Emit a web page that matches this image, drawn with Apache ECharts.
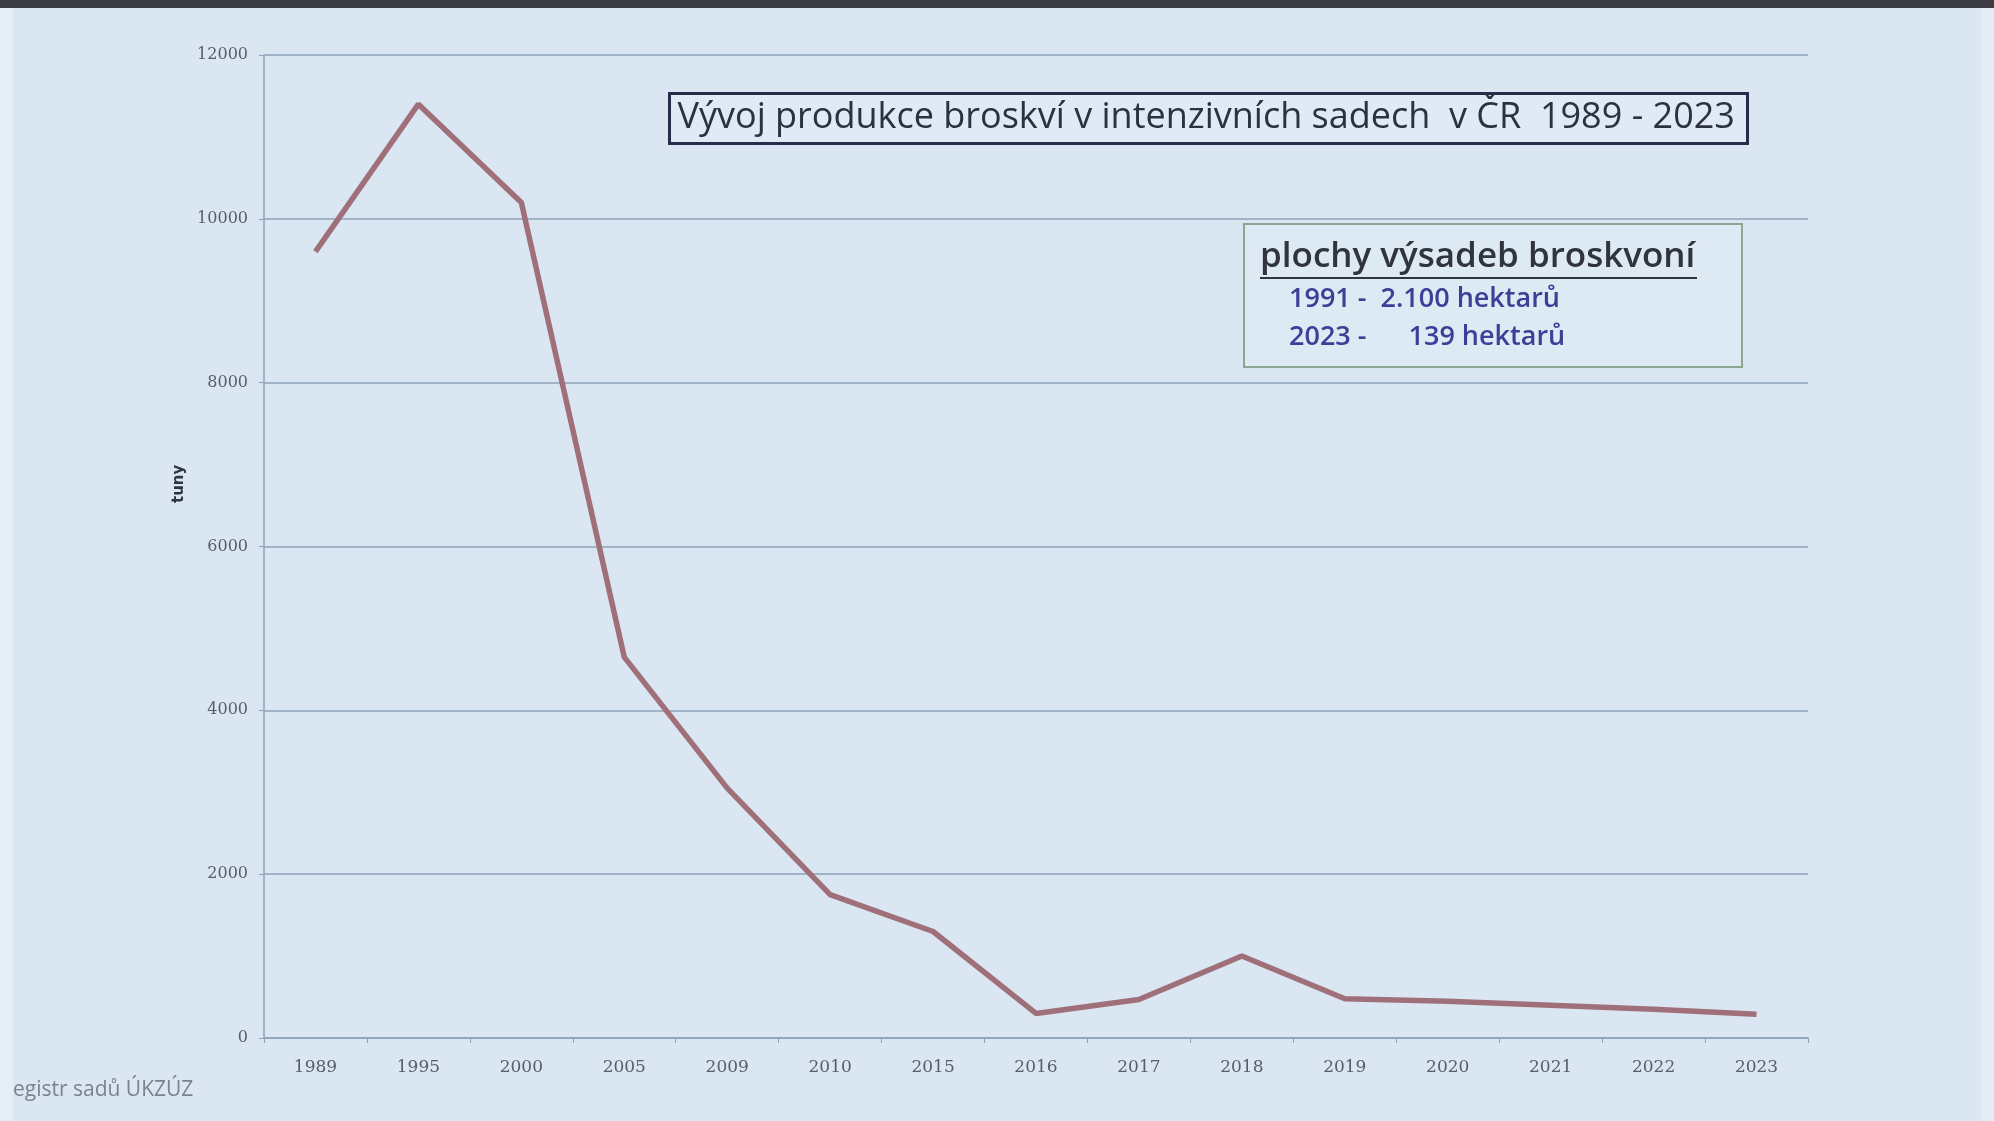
<!DOCTYPE html>
<html>
<head>
<meta charset="utf-8">
<script src="https://cdn.jsdelivr.net/npm/echarts@6/dist/echarts.min.js"></script>
<style>
  html, body { margin: 0; padding: 0; background: #dae7f2; }
  #chart { width: 1994px; height: 1121px; }
</style>
</head>
<body>
<div id="chart"></div>
<script>
// roky a produkce (tuny)
const years = ['1989', '1995', '2000', '2005', '2009', '2010', '2015', '2016', '2017', '2018', '2019', '2020', '2021', '2022', '2023']
const production = [9600, 11400, 10200, 4650, 3050, 1750, 1300, 300, 470, 1000, 480, 450, 400, 350, 290]
const yTicks = [0, 2000, 4000, 6000, 8000, 10000, 12000]

const titleText = 'Vývoj produkce broskví v intenzivních sadech  v ČR  1989 - 2023'
const noteTitle = 'plochy výsadeb broskvoní'
const noteLines = ['1991 -  2.100 hektarů', '2023 -      139 hektarů']
const sourceText = 'Registr sadů ÚKZÚZ'
const yName = 'tuny'

const chart = echarts.init(document.getElementById('chart'))

const option = {
  backgroundColor: '#dae7f2',
  animation: false,
  grid: { left: 264, right: 186, top: 55, bottom: 83 },
  xAxis: {
    type: 'category',
    data: years,
    boundaryGap: true,
    axisLine: { lineStyle: { color: '#8ea3b8', width: 1.5 } },
    axisTick: { show: true, length: 5, lineStyle: { color: '#8ea3b8' } },
    axisLabel: { color: '#555d6e', fontSize: 17, fontFamily: 'DejaVu Serif', margin: 21 }
  },
  yAxis: {
    type: 'value',
    min: yTicks[0],
    max: yTicks[yTicks.length - 1],
    interval: 2000,
    axisLine: { show: true, lineStyle: { color: '#8ea3b8', width: 1.5 } },
    axisTick: { show: true, length: 5, lineStyle: { color: '#8ea3b8' } },
    axisLabel: {
      color: '#555d6e', fontSize: 16, fontFamily: 'DejaVu Serif', margin: 16,
      formatter: v => String(v)
    },
    splitLine: { lineStyle: { color: '#8ea3b8', width: 1.5 } }
  },
  series: [{
    type: 'line',
    data: production,
    showSymbol: false,
    smooth: false,
    lineStyle: { color: '#a0707a', width: 5.5 },
    itemStyle: { color: '#a0707a' }
  }],
  graphic: [
    // zdroj, vlevo oříznutý
    { type: 'text', left: 0, top: 1080, style: { text: sourceText, font: '21px "Open Sans"', fill: '#7a8192' } },
    // tmavý pruh nahoře a světlé okraje plátna
    { type: 'rect', left: 0, top: 0, shape: { width: 1994, height: 8 }, style: { fill: '#3b3d42' }, silent: true },
    { type: 'rect', left: 0, top: 8, shape: { width: 13, height: 1113 }, style: { fill: '#e6eef5' }, silent: true },
    { type: 'rect', left: 1981, top: 8, shape: { width: 13, height: 1113 }, style: { fill: '#e3edf5' }, silent: true },
    // popis osy y
    { type: 'text', x: 172, y: 503, rotation: Math.PI / 2, style: { text: yName, font: '600 15px "DejaVu Sans"', fill: '#2f3440' } },
    // nadpis v rámečku
    {
      type: 'group', left: 668, top: 92,
      children: [
        { type: 'rect', shape: { width: 1078, height: 50 }, style: { fill: 'rgba(255,255,255,0.15)', stroke: '#262d4a', lineWidth: 3 } },
        { type: 'text', left: 8, top: 6, style: { text: titleText, font: '36px "Open Sans"', fill: '#2c3140' } }
      ]
    },
    // rámeček s plochami
    {
      type: 'group', left: 1243, top: 223,
      children: [
        { type: 'rect', shape: { width: 498, height: 143 }, style: { fill: 'rgba(255,255,255,0.12)', stroke: '#8da692', lineWidth: 2 } },
        { type: 'text', left: 16, top: 16, style: { text: noteTitle, font: '600 35px "Open Sans"', fill: '#30343f' } },
        { type: 'rect', left: 16, top: 53, shape: { width: 437, height: 2 }, style: { fill: '#30343f' } },
        { type: 'text', left: 45, top: 62, style: { text: noteLines[0], font: '600 27px "Open Sans"', fill: '#3a3f98' } },
        { type: 'text', left: 45, top: 100, style: { text: noteLines[1], font: '600 27px "Open Sans"', fill: '#3a3f98' } }
      ]
    }
  ]
}

chart.setOption(option)
</script>
</body>
</html>
